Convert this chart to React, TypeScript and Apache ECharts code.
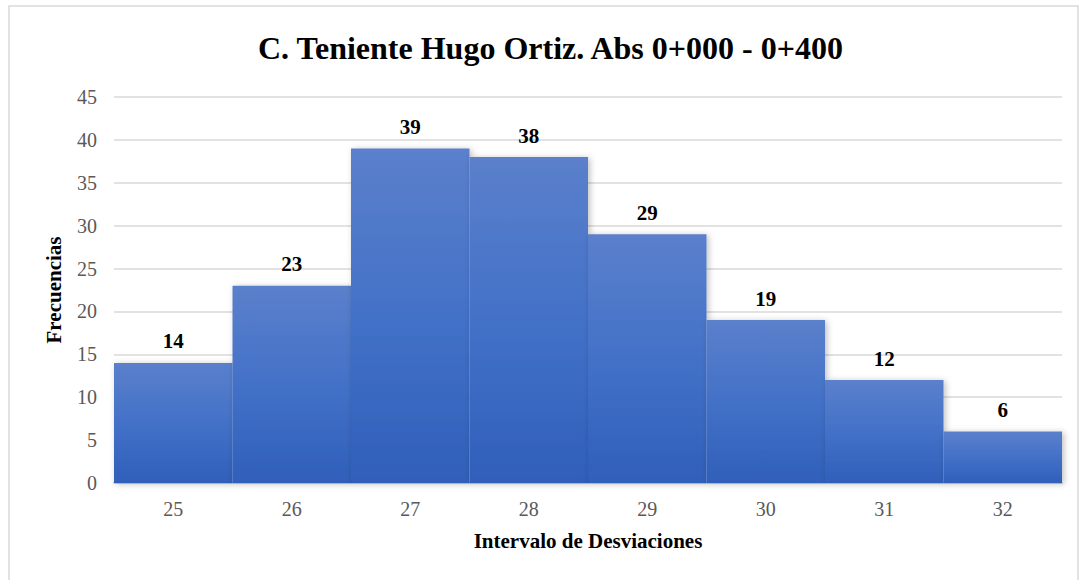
import React, { useEffect, useRef } from "react";
import * as echarts from "echarts";

const categories = ["25", "26", "27", "28", "29", "30", "31", "32"];
const frequencies = [14, 23, 39, 38, 29, 19, 12, 6];
const titleText = "C. Teniente Hugo Ortiz. Abs 0+000 - 0+400";
const xName = "Intervalo de Desviaciones";
const yName = "Frecuencias";

const FONT = "'Liberation Serif', 'Times New Roman', serif";

export default function App() {
  const ref = useRef<HTMLDivElement>(null);
  useEffect(() => {
    if (!ref.current) return;
    const chart = echarts.init(ref.current, null, { renderer: "svg" });
    chart.setOption({
      animation: false,
      backgroundColor: "#ffffff",
      title: {
        text: titleText,
        left: 253,
        top: 27,
        textStyle: { fontFamily: FONT, fontWeight: "bold", fontSize: 32, color: "#000000" },
      },
      graphic: [
        {
          type: "rect",
          shape: { x: 9, y: 6, width: 1069, height: 580 },
          style: { fill: "none", stroke: "#d9d9d9", lineWidth: 1.5 },
          silent: true,
        },
      ],
      grid: { left: 114, right: 20, top: 97, bottom: 97, containLabel: false },
      xAxis: {
        type: "category",
        data: categories,
        name: xName,
        nameLocation: "middle",
        nameGap: 47,
        nameTextStyle: { fontFamily: FONT, fontWeight: "bold", fontSize: 21, color: "#000000" },
        axisLine: { lineStyle: { color: "#d0d0d0", width: 2 } },
        axisTick: { show: false },
        axisLabel: { fontFamily: FONT, fontSize: 20, color: "#595959", margin: 16 },
      },
      yAxis: {
        type: "value",
        min: 0,
        max: 45,
        interval: 5,
        name: yName,
        nameLocation: "middle",
        nameGap: 50,
        nameRotate: 90,
        nameTextStyle: { fontFamily: FONT, fontWeight: "bold", fontSize: 21, color: "#000000" },
        axisLine: { show: false },
        axisTick: { show: false },
        axisLabel: { fontFamily: FONT, fontSize: 20, color: "#595959", margin: 17 },
        splitLine: { lineStyle: { color: "#d9d9d9", width: 1.5 } },
      },
      series: [
        {
          type: "bar",
          data: frequencies,
          barCategoryGap: "0%",
          itemStyle: {
            color: new echarts.graphic.LinearGradient(0, 0, 0, 1, [
              { offset: 0, color: "#5b80cb" },
              { offset: 0.5, color: "#4371c8" },
              { offset: 1, color: "#2f5fb9" },
            ]),
            shadowBlur: 6,
            shadowColor: "rgba(0,0,0,0.25)",
            shadowOffsetX: 2,
            shadowOffsetY: 1,
          },
          label: {
            show: true,
            position: "top",
            distance: 11,
            fontFamily: FONT,
            fontWeight: "bold",
            fontSize: 21,
            color: "#000000",
          },
        },
      ],
    });
    return () => chart.dispose();
  }, []);
  return (
    <div
      ref={ref}
      style={{ position: "fixed", left: 0, top: 0, width: 1082, height: 580 }}
    />
  );
}
